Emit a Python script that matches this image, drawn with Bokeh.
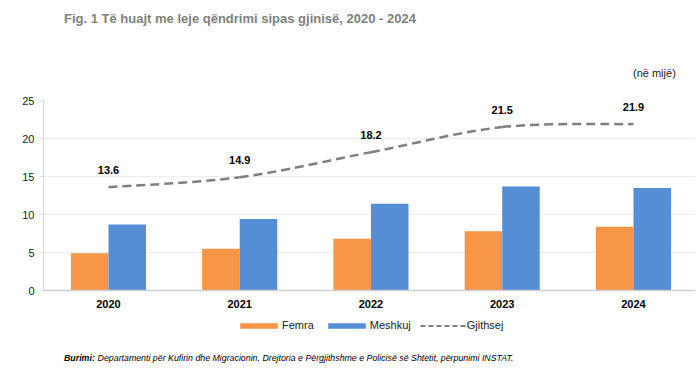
from bokeh.plotting import figure
from bokeh.models import (ColumnDataSource, Range1d, FixedTicker, Label, Legend, LegendItem)
from bokeh.layouts import column
from bokeh.transform import dodge
from bokeh.core.properties import value
from bokeh.embed import file_html
from bokeh.resources import INLINE

# ---- data ----
years = ["2020", "2021", "2022", "2023", "2024"]
femra = [4.9, 5.5, 6.8, 7.8, 8.4]
meshkuj = [8.7, 9.4, 11.4, 13.7, 13.5]
gjithsej = [13.6, 14.9, 18.2, 21.5, 21.9]
y_ticks = [0, 5, 10, 15, 20, 25]

title_text = "Fig. 1 Të huajt me leje qëndrimi sipas gjinisë, 2020 - 2024"
unit_text = "(në mijë)"
source_bold = "Burimi:"
source_text = "Departamenti për Kufirin dhe Migracionin, Drejtoria e Përgjithshme e Policisë së Shtetit,  përpunimi INSTAT."

ORANGE = "#F79646"
BLUE = "#558ED5"
GREY = "#7F7F7F"
FONT = "Liberation Sans"
W = 699


def text_panel(h):
    f = figure(width=W, height=h, output_backend="svg", toolbar_location=None,
               x_range=Range1d(0, W), y_range=Range1d(h, 0),
               x_axis_type=None, y_axis_type=None,
               min_border=0, min_border_left=0, min_border_right=0,
               min_border_top=0, min_border_bottom=0)
    f.outline_line_color = None
    f.xgrid.visible = False
    f.ygrid.visible = False
    return f


# ---- header ----
head = text_panel(80)
head.add_layout(Label(x=22, y=18, text=title_text, text_font=FONT,
                      text_font_size="13px", text_font_style="bold", text_color=GREY,
                      text_baseline="middle"))
head.add_layout(Label(x=632, y=72, text=unit_text, text_font=FONT,
                      text_font_size="11px", text_color="#222222", text_baseline="middle"))

# ---- main chart ----
idx = list(range(len(years)))
src = ColumnDataSource(dict(x=idx, femra=femra, meshkuj=meshkuj, total=gjithsej,
                            lab=[f"{v:.1f}" for v in gjithsej]))

X0 = -0.495
X1 = X0 + (695 - 43) / 131.25
p = figure(width=W, height=232, output_backend="svg", toolbar_location=None,
           x_range=Range1d(X0, X1), y_range=Range1d(0, 25),
           min_border_left=43, min_border_right=4, min_border_top=20, min_border_bottom=22)
p.outline_line_color = None

bw = 0.286
p.vbar(x=dodge("x", -bw / 2, range=p.x_range), top="femra", width=bw, source=src,
       fill_color=ORANGE, line_color=None)
p.vbar(x=dodge("x", bw / 2, range=p.x_range), top="meshkuj", width=bw, source=src,
       fill_color=BLUE, line_color=None)

# smoothed total line (Bezier segments through the data points)
n = len(gjithsej)
pts = list(zip(idx, gjithsej))
x0s, y0s, x1s, y1s, cx0, cy0, cx1, cy1 = ([] for _ in range(8))
for i in range(n - 1):
    p0 = pts[max(i - 1, 0)]
    p1 = pts[i]
    p2 = pts[i + 1]
    p3 = pts[min(i + 2, n - 1)]
    x0s.append(p1[0]); y0s.append(p1[1]); x1s.append(p2[0]); y1s.append(p2[1])
    cx0.append(p1[0] + (p2[0] - p0[0]) / 6); cy0.append(p1[1] + (p2[1] - p0[1]) / 6)
    cx1.append(p2[0] - (p3[0] - p1[0]) / 6); cy1.append(p2[1] - (p3[1] - p1[1]) / 6)
p.bezier(x0=x0s, y0=y0s, x1=x1s, y1=y1s, cx0=cx0, cy0=cy0, cx1=cx1, cy1=cy1,
         line_color=GREY, line_width=2.5, line_dash="9 5")

p.text(x="x", y="total", text="lab", source=src, y_offset=-17,
       text_align="center", text_baseline="middle", text_font=value(FONT),
       text_font_size="11px", text_font_style="bold", text_color="#000000")

p.yaxis.ticker = FixedTicker(ticks=y_ticks)
p.yaxis.axis_line_color = "#D9D9D9"
p.yaxis.major_tick_line_color = "#D9D9D9"
p.yaxis.major_tick_out = 4
p.yaxis.major_tick_in = 0
p.yaxis.minor_tick_line_color = None
p.yaxis.major_label_standoff = 5
p.yaxis.major_label_text_font = FONT
p.yaxis.major_label_text_font_size = "11px"
p.yaxis.major_label_text_color = "#222222"

p.xaxis.ticker = FixedTicker(ticks=idx)
p.xaxis.major_label_overrides = {i: y for i, y in zip(idx, years)}
p.xaxis.axis_line_color = "#D0D0D0"
p.xaxis.axis_line_width = 1.5
p.xaxis.major_tick_line_color = None
p.xaxis.minor_tick_line_color = None
p.xaxis.major_label_standoff = 3
p.xaxis.major_label_text_font = FONT
p.xaxis.major_label_text_font_size = "11px"
p.xaxis.major_label_text_font_style = "bold"
p.xaxis.major_label_text_color = "#000000"

p.xgrid.grid_line_color = None
p.ygrid.grid_line_color = "#D9D9D9"
p.ygrid.grid_line_dash = "1 1"

# ---- footer: legend + source ----
FH = 68
foot = text_panel(FH)
# hidden copies of the series, used only to draw the legend swatches
lf = foot.vbar(x="x", top="femra", width=0.5, source=src, fill_color=ORANGE,
               line_color=None, visible=False)
lm = foot.vbar(x="x", top="meshkuj", width=0.5, source=src, fill_color=BLUE,
               line_color=None, visible=False)
lg = foot.line(x="x", y="total", source=src, line_color=GREY, line_width=2,
               line_dash="5 3", visible=False)
legend = Legend(items=[LegendItem(label="Femra", renderers=[lf]),
                       LegendItem(label="Meshkuj", renderers=[lm]),
                       LegendItem(label="Gjithsej", renderers=[lg])],
                orientation="horizontal", location=(192, FH - 13 - 6),
                glyph_width=47, glyph_height=7, label_height=7, label_standoff=0,
                spacing=9, padding=0, margin=0, border_line_alpha=0,
                background_fill_alpha=0, inactive_fill_alpha=0,
                label_text_font=FONT,
                label_text_font_size="11px", label_text_color="#222222")
foot.add_layout(legend, "center")
foot.add_layout(Label(x=22, y=45, text=source_bold, text_font=FONT,
                      text_font_size="8.8px", text_font_style="bold italic",
                      text_color="#000000", text_baseline="middle"))
foot.add_layout(Label(x=58, y=45, text=source_text, text_font=FONT,
                      text_font_size="8.8px", text_font_style="italic",
                      text_color="#000000", text_baseline="middle"))

layout = column(head, p, foot, spacing=0)
open("out.html", "w").write(file_html(layout, INLINE))
